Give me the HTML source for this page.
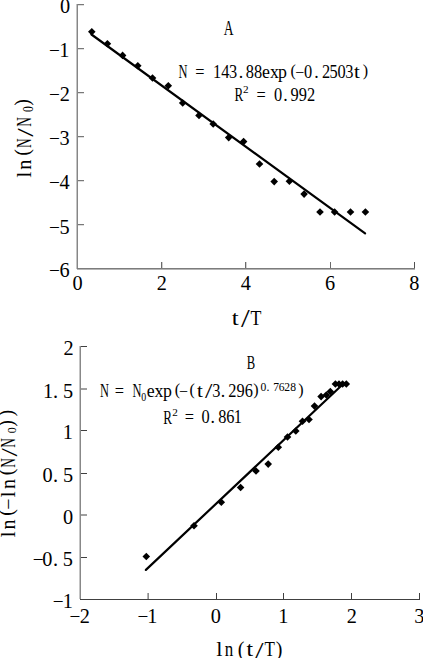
<!DOCTYPE html>
<html><head><meta charset="utf-8"><style>
html,body{margin:0;padding:0;background:#fff;}
svg{display:block;}
text{font-family:"Liberation Serif",serif;fill:#000;}
</style></head><body>
<svg width="423" height="658" viewBox="0 0 423 658">
<rect width="423" height="658" fill="#fff"/>
<line x1="76.5" y1="4" x2="76.5" y2="269" stroke="#c4c4c4" stroke-width="1"/>
<line x1="77" y1="269.5" x2="415" y2="269.5" stroke="#b4b4b4" stroke-width="1"/>
<line x1="77.5" y1="4" x2="77.5" y2="269" stroke="#868686" stroke-width="1"/>
<line x1="77" y1="268.5" x2="415" y2="268.5" stroke="#7c7c7c" stroke-width="1"/>
<line x1="78" y1="5.5" x2="84" y2="5.5" stroke="#dedede" stroke-width="1"/>
<line x1="78" y1="4.5" x2="84" y2="4.5" stroke="#787878" stroke-width="1"/>
<line x1="78" y1="49.5" x2="84" y2="49.5" stroke="#dedede" stroke-width="1"/>
<line x1="78" y1="48.5" x2="84" y2="48.5" stroke="#787878" stroke-width="1"/>
<line x1="78" y1="93.5" x2="84" y2="93.5" stroke="#dedede" stroke-width="1"/>
<line x1="78" y1="92.5" x2="84" y2="92.5" stroke="#787878" stroke-width="1"/>
<line x1="78" y1="137.5" x2="84" y2="137.5" stroke="#dedede" stroke-width="1"/>
<line x1="78" y1="136.5" x2="84" y2="136.5" stroke="#787878" stroke-width="1"/>
<line x1="78" y1="181.5" x2="84" y2="181.5" stroke="#dedede" stroke-width="1"/>
<line x1="78" y1="180.5" x2="84" y2="180.5" stroke="#787878" stroke-width="1"/>
<line x1="78" y1="225.5" x2="84" y2="225.5" stroke="#dedede" stroke-width="1"/>
<line x1="78" y1="224.5" x2="84" y2="224.5" stroke="#787878" stroke-width="1"/>
<line x1="162.5" y1="268" x2="162.5" y2="262" stroke="#d0d0d0" stroke-width="1"/>
<line x1="161.5" y1="268" x2="161.5" y2="262" stroke="#6a6a6a" stroke-width="1"/>
<line x1="246.5" y1="268" x2="246.5" y2="262" stroke="#d0d0d0" stroke-width="1"/>
<line x1="245.5" y1="268" x2="245.5" y2="262" stroke="#6a6a6a" stroke-width="1"/>
<line x1="330.5" y1="268" x2="330.5" y2="262" stroke="#6a6a6a" stroke-width="1"/>
<line x1="414.5" y1="268" x2="414.5" y2="262" stroke="#505050" stroke-width="1"/>
<text x="59.92" y="13.00" font-size="20.3">0</text>
<text x="48.95" y="57.00" font-size="19.285">−</text>
<text x="59.34" y="57.00" font-size="20.3">1</text>
<text x="48.95" y="101.00" font-size="19.285">−</text>
<text x="59.74" y="101.00" font-size="20.3">2</text>
<text x="48.95" y="145.00" font-size="19.285">−</text>
<text x="59.54" y="145.00" font-size="20.3">3</text>
<text x="48.95" y="189.00" font-size="19.285">−</text>
<text x="59.59" y="189.00" font-size="20.3">4</text>
<text x="48.95" y="234.00" font-size="19.285">−</text>
<text x="59.43" y="234.00" font-size="20.3">5</text>
<text x="48.95" y="277.00" font-size="19.285">−</text>
<text x="59.49" y="277.00" font-size="20.3">6</text>
<text x="72.42" y="290.40" font-size="20.3">0</text>
<text x="156.74" y="290.40" font-size="20.3">2</text>
<text x="240.79" y="290.40" font-size="20.3">4</text>
<text x="324.89" y="290.40" font-size="20.3">6</text>
<text x="409.23" y="290.40" font-size="20.3">8</text>
<text transform="translate(223.85,34.90) scale(0.66,1.0)" font-size="20.5">A</text>
<text transform="translate(178.46,77.80) scale(0.7,1.02)" font-size="17.8">N</text>
<text transform="translate(195.17,77.80) scale(0.92,1)" font-size="17.8">=</text>
<text transform="translate(212.88,77.80) scale(0.92,1)" font-size="17.8">1</text>
<text transform="translate(221.17,77.80) scale(0.92,1)" font-size="17.8">4</text>
<text transform="translate(229.03,77.80) scale(0.92,1)" font-size="17.8">3</text>
<text x="238.78" y="77.80" font-size="17.8">.</text>
<text transform="translate(245.81,77.80) scale(0.92,1)" font-size="17.8">8</text>
<text transform="translate(253.91,77.80) scale(0.92,1)" font-size="17.8">8</text>
<text x="262.01" y="77.80" font-size="17.8">e</text>
<text x="269.88" y="77.80" font-size="17.8">x</text>
<text x="278.05" y="77.80" font-size="17.8">p</text>
<text x="290.44" y="75.85" font-size="16.02">(</text>
<text x="295.17" y="77.80" font-size="16.02">−</text>
<text transform="translate(303.91,77.80) scale(0.92,1)" font-size="17.8">0</text>
<text x="314.27" y="77.80" font-size="17.8">.</text>
<text transform="translate(322.00,77.80) scale(0.92,1)" font-size="17.8">2</text>
<text transform="translate(329.45,77.80) scale(0.92,1)" font-size="17.8">5</text>
<text transform="translate(337.41,77.80) scale(0.92,1)" font-size="17.8">0</text>
<text transform="translate(345.13,77.80) scale(0.92,1)" font-size="17.8">3</text>
<text transform="translate(353.94,77.80) scale(1.18,1)" font-size="17.8">t</text>
<text x="362.83" y="75.85" font-size="16.02">)</text>
<text transform="translate(234.43,100.90) scale(0.74,1.0)" font-size="17.8">R</text>
<text transform="translate(242.96,93.00) scale(1.12,1.0)" font-size="10">2</text>
<text transform="translate(256.57,100.90) scale(0.92,1.0)" font-size="17.8">=</text>
<text transform="translate(274.01,100.90) scale(0.92,1.0)" font-size="17.8">0</text>
<text x="283.27" y="100.90" font-size="17.8">.</text>
<text transform="translate(290.48,100.90) scale(0.92,1.0)" font-size="17.8">9</text>
<text transform="translate(298.78,100.90) scale(0.92,1.0)" font-size="17.8">9</text>
<text transform="translate(307.00,100.90) scale(0.92,1.0)" font-size="17.8">2</text>
<text transform="translate(31.30,177.76) rotate(-90) scale(1.12,1.0)" font-size="20.3">l</text>
<text transform="translate(31.30,169.65) rotate(-90) scale(1,1.0)" font-size="20.3">n</text>
<text transform="translate(28.90,155.70) rotate(-90) scale(1,1.0)" font-size="20.3">(</text>
<text transform="translate(31.30,147.88) rotate(-90) scale(0.66,1.0)" font-size="20.3">N</text>
<text transform="translate(32.50,136.73) rotate(-90) scale(1.5,1.18)" font-size="20.3">/</text>
<text transform="translate(31.30,126.78) rotate(-90) scale(0.66,1.0)" font-size="20.3">N</text>
<text transform="translate(28.90,105.66) rotate(-90) scale(1,1.0)" font-size="20.3">)</text>
<text transform="translate(32.50,112.04) rotate(-90) scale(0.81,1.0)" font-size="14.5">0</text>
<text transform="translate(231.71,325.30) scale(1.18,1.0)" font-size="21">t</text>
<text transform="translate(241.12,326.50) scale(1.5,1.18)" font-size="21">/</text>
<text transform="translate(250.54,325.30) scale(0.85,1.0)" font-size="21">T</text>
<path d="M91.80 28.00L95.60 31.80L91.80 35.60L88.00 31.80Z"/>
<path d="M107.40 39.90L111.20 43.70L107.40 47.50L103.60 43.70Z"/>
<path d="M122.60 51.60L126.40 55.40L122.60 59.20L118.80 55.40Z"/>
<path d="M137.80 62.00L141.60 65.80L137.80 69.60L134.00 65.80Z"/>
<path d="M152.50 74.20L156.30 78.00L152.50 81.80L148.70 78.00Z"/>
<path d="M168.30 82.00L172.10 85.80L168.30 89.60L164.50 85.80Z"/>
<path d="M182.70 99.20L186.50 103.00L182.70 106.80L178.90 103.00Z"/>
<path d="M199.00 111.60L202.80 115.40L199.00 119.20L195.20 115.40Z"/>
<path d="M213.20 120.20L217.00 124.00L213.20 127.80L209.40 124.00Z"/>
<path d="M228.70 133.80L232.50 137.60L228.70 141.40L224.90 137.60Z"/>
<path d="M243.60 137.80L247.40 141.60L243.60 145.40L239.80 141.60Z"/>
<path d="M259.50 160.20L263.30 164.00L259.50 167.80L255.70 164.00Z"/>
<path d="M274.20 177.80L278.00 181.60L274.20 185.40L270.40 181.60Z"/>
<path d="M289.40 177.40L293.20 181.20L289.40 185.00L285.60 181.20Z"/>
<path d="M304.10 190.30L307.90 194.10L304.10 197.90L300.30 194.10Z"/>
<path d="M320.00 208.20L323.80 212.00L320.00 215.80L316.20 212.00Z"/>
<path d="M334.60 208.20L338.40 212.00L334.60 215.80L330.80 212.00Z"/>
<path d="M350.50 208.20L354.30 212.00L350.50 215.80L346.70 212.00Z"/>
<path d="M365.40 208.20L369.20 212.00L365.40 215.80L361.60 212.00Z"/>
<line x1="91.5" y1="34.5" x2="365.1" y2="233.4" stroke="#000" stroke-width="2.2" stroke-linecap="round"/>
<line x1="79.5" y1="346" x2="79.5" y2="599" stroke="#c4c4c4" stroke-width="1"/>
<line x1="80.5" y1="346" x2="80.5" y2="599" stroke="#888888" stroke-width="1"/>
<line x1="80" y1="599.5" x2="420" y2="599.5" stroke="#404040" stroke-width="1"/>
<line x1="81" y1="346.5" x2="87" y2="346.5" stroke="#404040" stroke-width="1"/>
<line x1="81" y1="389.0" x2="87" y2="389.0" stroke="#404040" stroke-width="1"/>
<line x1="81" y1="430.5" x2="87" y2="430.5" stroke="#404040" stroke-width="1"/>
<line x1="81" y1="473.5" x2="87" y2="473.5" stroke="#404040" stroke-width="1"/>
<line x1="81" y1="515.0" x2="87" y2="515.0" stroke="#404040" stroke-width="1"/>
<line x1="81" y1="557.5" x2="87" y2="557.5" stroke="#404040" stroke-width="1"/>
<line x1="148.1" y1="599" x2="148.1" y2="593" stroke="#404040" stroke-width="1"/>
<line x1="216.5" y1="599" x2="216.5" y2="593" stroke="#404040" stroke-width="1"/>
<line x1="283.5" y1="599" x2="283.5" y2="593" stroke="#404040" stroke-width="1"/>
<line x1="351.5" y1="599" x2="351.5" y2="593" stroke="#404040" stroke-width="1"/>
<line x1="419.5" y1="599" x2="419.5" y2="593" stroke="#404040" stroke-width="1"/>
<text x="63.44" y="355.00" font-size="20.3">2</text>
<text x="42.94" y="398.00" font-size="20.3">1</text>
<text x="53.06" y="398.00" font-size="20.3">.</text>
<text x="62.93" y="398.00" font-size="20.3">5</text>
<text x="62.84" y="439.00" font-size="20.3">1</text>
<text x="42.52" y="482.00" font-size="20.3">0</text>
<text x="53.06" y="482.00" font-size="20.3">.</text>
<text x="62.93" y="482.00" font-size="20.3">5</text>
<text x="63.12" y="524.00" font-size="20.3">0</text>
<text x="32.65" y="566.00" font-size="19.285">−</text>
<text x="42.32" y="566.00" font-size="20.3">0</text>
<text x="53.06" y="566.00" font-size="20.3">.</text>
<text x="62.63" y="566.00" font-size="20.3">5</text>
<text x="52.85" y="608.00" font-size="19.285">−</text>
<text x="62.64" y="608.00" font-size="20.3">1</text>
<text x="69.55" y="623.00" font-size="19.285">−</text>
<text x="79.84" y="623.00" font-size="20.3">2</text>
<text x="137.45" y="623.00" font-size="19.285">−</text>
<text x="147.34" y="623.00" font-size="20.3">1</text>
<text x="210.73" y="623.00" font-size="20.3">0</text>
<text x="278.34" y="623.00" font-size="20.3">1</text>
<text x="346.64" y="623.00" font-size="20.3">2</text>
<text x="414.34" y="623.00" font-size="20.3">3</text>
<text transform="translate(246.66,369.00) scale(0.71,1.0)" font-size="17.8">B</text>
<text transform="translate(99.96,397.00) scale(0.7,1.02)" font-size="17.8">N</text>
<text transform="translate(114.87,397.00) scale(0.92,1)" font-size="17.8">=</text>
<text transform="translate(132.46,397.00) scale(0.7,1.02)" font-size="17.8">N</text>
<text x="146.81" y="397.00" font-size="17.8">e</text>
<text x="154.58" y="397.00" font-size="17.8">x</text>
<text x="163.05" y="397.00" font-size="17.8">p</text>
<text x="174.64" y="395.05" font-size="16.02">(</text>
<text x="178.97" y="397.00" font-size="16.02">−</text>
<text x="189.44" y="395.05" font-size="16.02">(</text>
<text transform="translate(197.04,397.00) scale(1.18,1)" font-size="17.8">t</text>
<text transform="translate(204.89,398.20) scale(1.5,1.18)" font-size="17.8">/</text>
<text transform="translate(212.33,397.00) scale(0.92,1)" font-size="17.8">3</text>
<text x="220.78" y="397.00" font-size="17.8">.</text>
<text transform="translate(228.30,397.00) scale(0.92,1)" font-size="17.8">2</text>
<text transform="translate(236.58,397.00) scale(0.92,1)" font-size="17.8">9</text>
<text transform="translate(244.70,397.00) scale(0.92,1)" font-size="17.8">6</text>
<text x="253.23" y="395.05" font-size="16.02">)</text>
<text x="298.13" y="395.05" font-size="16.02">)</text>
<text transform="translate(141.13,401.40) scale(0.86,1.0)" font-size="11.5">0</text>
<text x="260.40" y="391.00" font-size="11.6">0</text>
<text x="266.45" y="391.00" font-size="11.6">.</text>
<text x="273.18" y="391.00" font-size="11.6">7</text>
<text x="278.72" y="391.00" font-size="11.6">6</text>
<text x="284.17" y="391.00" font-size="11.6">2</text>
<text x="290.30" y="391.00" font-size="11.6">8</text>
<text transform="translate(163.13,423.50) scale(0.74,1.0)" font-size="17.8">R</text>
<text transform="translate(172.16,416.00) scale(1.12,1.0)" font-size="10">2</text>
<text transform="translate(184.77,423.30) scale(0.92,1.0)" font-size="17.8">=</text>
<text transform="translate(201.51,423.30) scale(0.92,1.0)" font-size="17.8">0</text>
<text x="210.58" y="423.30" font-size="17.8">.</text>
<text transform="translate(218.31,423.30) scale(0.92,1.0)" font-size="17.8">8</text>
<text transform="translate(226.20,423.30) scale(0.92,1.0)" font-size="17.8">6</text>
<text transform="translate(233.68,423.30) scale(0.92,1.0)" font-size="17.8">1</text>
<text transform="translate(15.30,537.51) rotate(-90) scale(1.12,1.0)" font-size="20">l</text>
<text transform="translate(15.30,529.58) rotate(-90) scale(1,1.0)" font-size="20">n</text>
<text transform="translate(12.90,515.85) rotate(-90) scale(1,1.0)" font-size="20">(</text>
<text transform="translate(15.30,509.75) rotate(-90) scale(1,1.0)" font-size="20">−</text>
<text transform="translate(15.30,497.61) rotate(-90) scale(1.12,1.0)" font-size="20">l</text>
<text transform="translate(15.30,488.88) rotate(-90) scale(1,1.0)" font-size="20">n</text>
<text transform="translate(12.90,475.15) rotate(-90) scale(1,1.0)" font-size="20">(</text>
<text transform="translate(15.30,467.70) rotate(-90) scale(0.66,1.0)" font-size="20">N</text>
<text transform="translate(16.50,456.47) rotate(-90) scale(1.5,1.18)" font-size="20">/</text>
<text transform="translate(15.30,447.80) rotate(-90) scale(0.66,1.0)" font-size="20">N</text>
<text transform="translate(12.90,426.71) rotate(-90) scale(1,1.0)" font-size="20">)</text>
<text transform="translate(12.90,416.51) rotate(-90) scale(1,1.0)" font-size="20">)</text>
<text transform="translate(16.10,433.20) rotate(-90) scale(0.89,1.0)" font-size="13.5">0</text>
<text transform="translate(216.19,655.50) scale(1.12,1.0)" font-size="20">l</text>
<text transform="translate(224.68,655.50) scale(0.85,1.0)" font-size="20">n</text>
<text x="237.85" y="655.50" font-size="20">(</text>
<text transform="translate(246.48,655.50) scale(1.18,1.0)" font-size="20">t</text>
<text transform="translate(255.23,657.70) scale(1.5,1.18)" font-size="20">/</text>
<text transform="translate(264.60,655.50) scale(0.85,1.0)" font-size="20">T</text>
<text x="275.79" y="655.50" font-size="20">)</text>
<path d="M146.30 552.70L150.10 556.50L146.30 560.30L142.50 556.50Z"/>
<path d="M194.00 522.00L197.80 525.80L194.00 529.60L190.20 525.80Z"/>
<path d="M221.30 498.40L225.10 502.20L221.30 506.00L217.50 502.20Z"/>
<path d="M240.60 483.70L244.40 487.50L240.60 491.30L236.80 487.50Z"/>
<path d="M256.00 467.20L259.80 471.00L256.00 474.80L252.20 471.00Z"/>
<path d="M268.20 460.30L272.00 464.10L268.20 467.90L264.40 464.10Z"/>
<path d="M278.30 443.40L282.10 447.20L278.30 451.00L274.50 447.20Z"/>
<path d="M287.50 433.20L291.30 437.00L287.50 440.80L283.70 437.00Z"/>
<path d="M295.80 427.20L299.60 431.00L295.80 434.80L292.00 431.00Z"/>
<path d="M302.50 417.40L306.30 421.20L302.50 425.00L298.70 421.20Z"/>
<path d="M309.00 415.70L312.80 419.50L309.00 423.30L305.20 419.50Z"/>
<path d="M314.50 402.30L318.30 406.10L314.50 409.90L310.70 406.10Z"/>
<path d="M321.10 392.80L324.90 396.60L321.10 400.40L317.30 396.60Z"/>
<path d="M326.30 391.20L330.10 395.00L326.30 398.80L322.50 395.00Z"/>
<path d="M330.30 387.70L334.10 391.50L330.30 395.30L326.50 391.50Z"/>
<path d="M335.40 380.20L339.20 384.00L335.40 387.80L331.60 384.00Z"/>
<path d="M339.00 380.20L342.80 384.00L339.00 387.80L335.20 384.00Z"/>
<path d="M342.60 380.20L346.40 384.00L342.60 387.80L338.80 384.00Z"/>
<path d="M346.30 380.20L350.10 384.00L346.30 387.80L342.50 384.00Z"/>
<line x1="145.9" y1="569.9" x2="341" y2="386" stroke="#000" stroke-width="2.2" stroke-linecap="round"/>
</svg>
</body></html>
